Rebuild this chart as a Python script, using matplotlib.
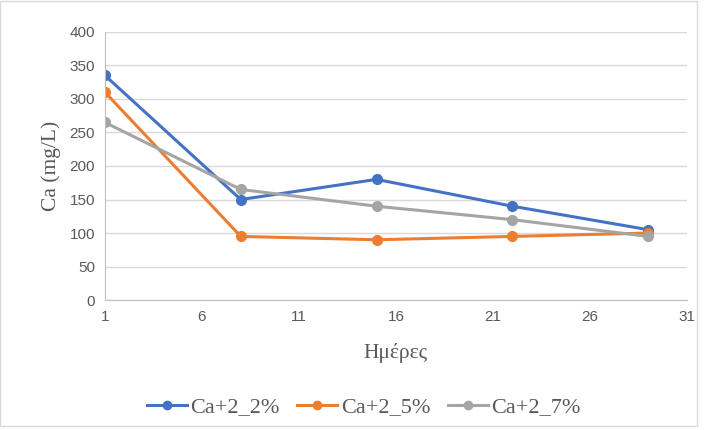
import matplotlib.pyplot as plt
from matplotlib.patches import Rectangle

# data
days = [1, 8, 15, 22, 29]
ca_2 = [335, 150, 180, 140, 105]
ca_5 = [310, 95, 90, 95, 100]
ca_7 = [265, 165, 140, 120, 95]
x_ticks = [1, 6, 11, 16, 21, 26, 31]
y_ticks = [0, 50, 100, 150, 200, 250, 300, 350, 400]

fig = plt.figure(figsize=(7.09, 4.30), dpi=100)
ax = fig.add_axes([0.148, 0.302, 0.821, 0.624])

ax.plot(days, ca_2, color='#4472C4', lw=2.2, marker='o', ms=7, label='Ca+2_2%')
ax.plot(days, ca_5, color='#ED7D31', lw=2.2, marker='o', ms=7, label='Ca+2_5%')
ax.plot(days, ca_7, color='#A5A5A5', lw=2.2, marker='o', ms=7, label='Ca+2_7%')

ax.set_xlim(1, 31)
ax.set_ylim(0, 400)
ax.set_xticks(x_ticks)
ax.set_yticks(y_ticks)
ax.tick_params(length=0, labelsize=11, colors='#595959', pad=7)
for lab in ax.get_xticklabels() + ax.get_yticklabels():
    lab.set_family('Liberation Sans')

ax.grid(axis='y', color='#D9D9D9', lw=1)
ax.set_axisbelow(True)
for s in ['top', 'right']:
    ax.spines[s].set_visible(False)
ax.spines['left'].set_color('#BFBFBF')
ax.spines['bottom'].set_color('#BFBFBF')

ax.set_ylabel('Ca (mg/L)', family='Liberation Serif', fontsize=15.5, color='#595959', labelpad=6)
ax.set_xlabel('Ημέρες', family='Liberation Serif', fontsize=15.5, color='#595959', labelpad=14)

leg = fig.legend(loc='center', bbox_to_anchor=(0.513, 0.053), ncol=3, frameon=False,
                 prop={'family': 'Liberation Serif', 'size': 16}, handlelength=1.8,
                 columnspacing=0.8, handletextpad=0.15)
for t in leg.get_texts():
    t.set_color('#595959')
for h in leg.get_lines():
    h.set_markersize(6)

fig.patches.append(Rectangle((0.0, 0.01), 0.983, 0.988, transform=fig.transFigure,
                             fill=False, edgecolor='#D9D9D9', lw=1))

fig.savefig('out.png', dpi=100)
